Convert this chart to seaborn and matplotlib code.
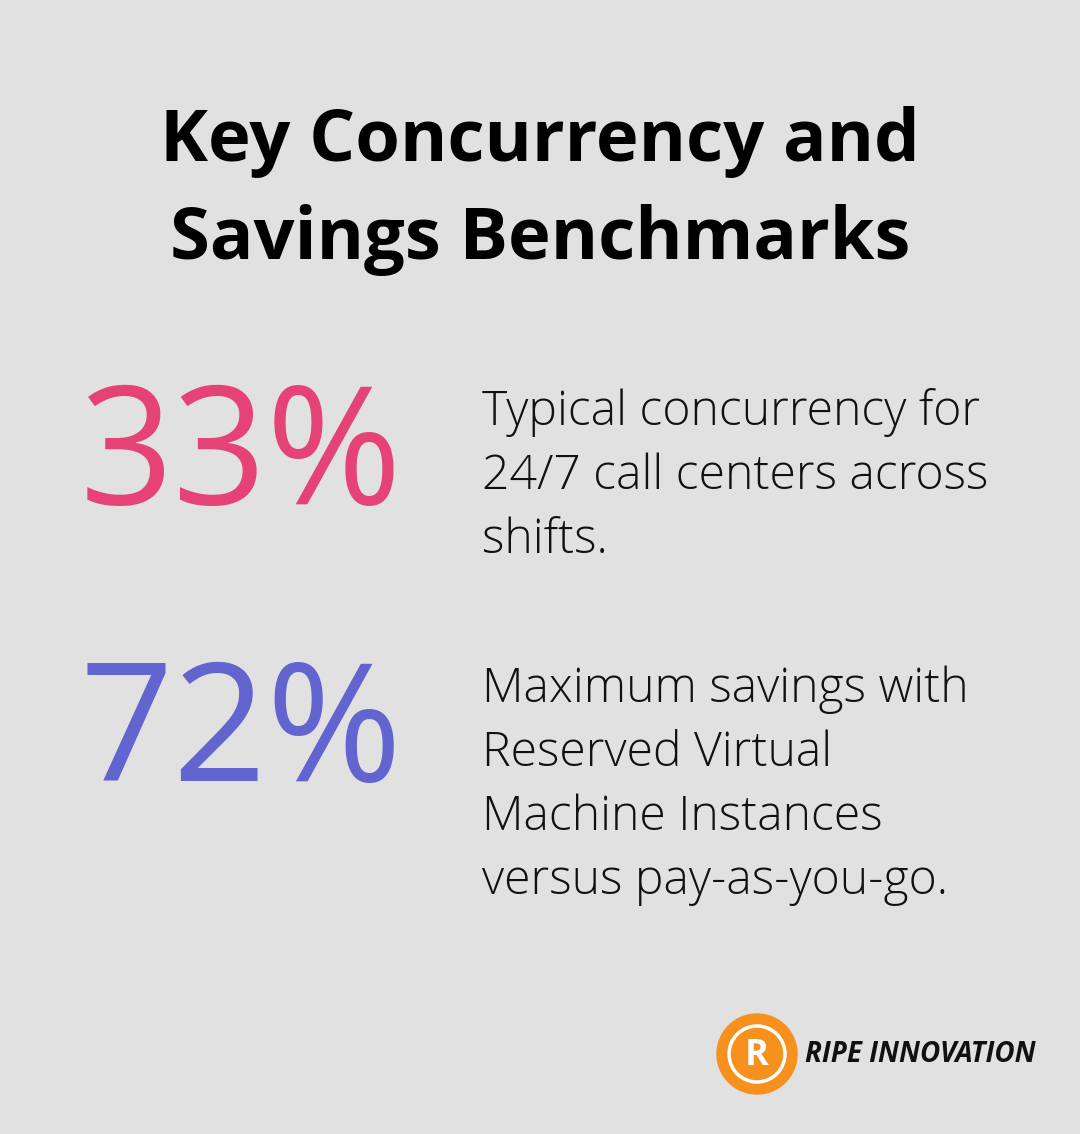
import matplotlib.pyplot as plt
import matplotlib.patches as mpatches
import seaborn as sns

# Data
title_lines = ["Key Concurrency and", "Savings Benchmarks"]
stat_values = [33, 72]
stat_colors = ["#e54377", "#6264d0"]
stat_texts = [
    "Typical concurrency for\n24/7 call centers across\nshifts.",
    "Maximum savings with\nReserved Virtual\nMachine Instances\nversus pay-as-you-go.",
]
brand = "RIPE INNOVATION"

sns.set_style("white")
plt.rcParams["font.family"] = ["Open Sans", "DejaVu Sans"]

W, H = 1080, 1134
fig = plt.figure(figsize=(W / 100, H / 100), dpi=100)
fig.patch.set_facecolor("#e0e1e0")
ax = fig.add_axes([0, 0, 1, 1])
ax.set_xlim(0, W)
ax.set_ylim(H, 0)
ax.axis("off")

ax.text(540, 142, title_lines[0], ha="center", va="center", fontsize=52, fontweight="bold", color="black")
ax.text(540, 240, title_lines[1], ha="center", va="center", fontsize=52, fontweight="bold", color="black")

num_y = [461, 738]
txt_y = [416, 694]
for v, c, t, ny, ty in zip(stat_values, stat_colors, stat_texts, num_y, txt_y):
    ax.text(241, ny, f"{v}%", ha="center", va="center", fontsize=118, fontweight="medium", color=c)
    ax.text(482, ty - 28, t, ha="left", va="top", fontsize=34.7, fontweight="light",
            color="#111111", linespacing=1.42)

# logo
ax.add_patch(mpatches.Circle((757, 1054), 40, color="#f6911e"))
ax.add_patch(mpatches.Circle((757, 1054), 28, fill=False, ec="white", lw=2.5))
ax.text(757, 1056, "R", ha="center", va="center", fontsize=26, fontweight="bold", color="white")
ax.text(805, 1054, brand, ha="left", va="center", fontsize=20, fontweight="bold",
        style="italic", color="#111111")

fig.savefig("out.png", dpi=100, facecolor=fig.get_facecolor())
